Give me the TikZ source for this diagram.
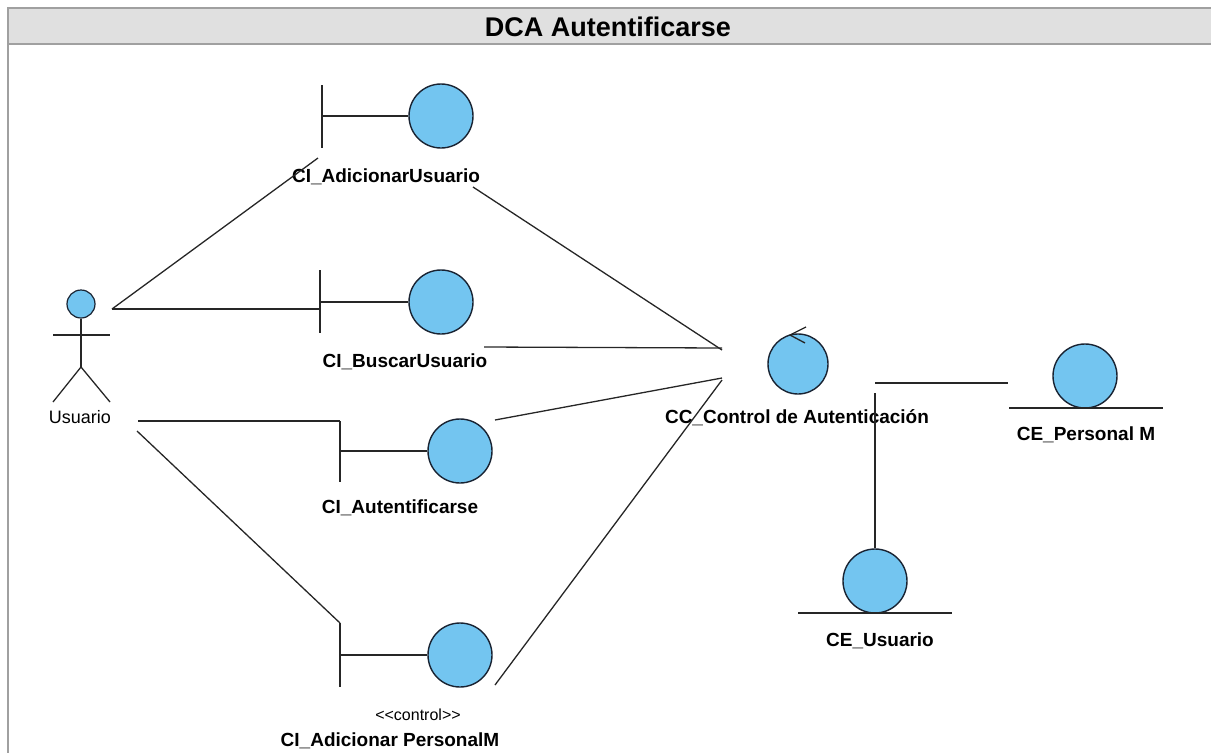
\documentclass[tikz,border=0pt]{standalone}
\usepackage{fontspec}
\setmainfont{Liberation Sans}
\definecolor{objblue}{RGB}{115,197,240}
\definecolor{objline}{RGB}{25,35,50}
\definecolor{titlegray}{RGB}{224,224,224}
\definecolor{framegray}{RGB}{160,160,160}
\begin{document}
\begin{tikzpicture}[x=1pt,y=-1pt,
  obj/.style={circle, draw=objline, line width=1.4pt, fill=objblue, minimum size=64pt, inner sep=0pt},
  lbl/.style={font=\bfseries\fontsize{19}{22}\selectfont, inner sep=0pt},
  plain/.style={font=\fontsize{18}{21}\selectfont, inner sep=0pt},
  ln/.style={line width=1.3pt, draw=black!85}]
\useasboundingbox (0,0) rectangle (1211,753);
% frame and title
\fill[titlegray] (8,8) rectangle (1211,44);
\draw[framegray, line width=2pt] (1211,8) -- (8,8) -- (8,753);
\draw[framegray, line width=2pt] (8,44) -- (1211,44);
\node[font=\bfseries\fontsize{27}{32}\selectfont, inner sep=0pt] (title) at (608,27) {DCA Autentificarse};

% actor
\node[obj, minimum size=28pt, line width=1.2pt] (head) at (81,304) {};
\coordinate (hip) at (81,367);
\draw[ln] (head.south) -- (hip);
\draw[ln] (53,335) -- (110,335);
\draw[ln] (53,402) -- (hip) -- (110,402);
\node[plain] (actorlbl) at (80,417) {Usuario};
\coordinate (a1) at (112,309);
\coordinate (a2) at (138,421);
\coordinate (a3) at (137,431);

% CI_AdicionarUsuario
\node[obj] (b1) at (441,116) {};
\draw[ln] (322,85) -- (322,148);
\coordinate (b1bar) at (322,116);
\draw[ln] (b1bar) -- (b1.west);
\node[lbl] (b1lbl) at (386,177) {CI\_AdicionarUsuario};
\coordinate (b1in) at (318,158);
\coordinate (b1out) at (473,187);

% CI_BuscarUsuario
\node[obj] (b2) at (441,302) {};
\draw[ln] (320,270) -- (320,333);
\coordinate (b2bar) at (320,302);
\draw[ln] (b2bar) -- (b2.west);
\node[lbl] (b2lbl) at (405,362) {CI\_BuscarUsuario};
\coordinate (b2in) at (320,309);
\coordinate (b2out) at (484,347);

% CI_Autentificarse
\node[obj] (b3) at (460,451) {};
\draw[ln] (340,421) -- (340,482);
\coordinate (b3bar) at (340,451);
\draw[ln] (b3bar) -- (b3.west);
\node[lbl] (b3lbl) at (400,508) {CI\_Autentificarse};
\coordinate (b3in) at (340,421);
\coordinate (b3out) at (495,420);

% CI_Adicionar PersonalM
\node[obj] (b4) at (460,655) {};
\draw[ln] (340,623) -- (340,687);
\coordinate (b4bar) at (340,655);
\draw[ln] (b4bar) -- (b4.west);
\node[plain, font=\fontsize{16}{19}\selectfont] (b4st) at (418,715) {<{}<control>{}>};
\node[lbl] (b4lbl) at (390,741) {CI\_Adicionar PersonalM};
\coordinate (b4in) at (340,623);
\coordinate (b4out) at (495,685);

% control
\node[obj, minimum size=60pt] (cc) at (798,364) {};
\draw[ln] (806,327) -- (790,335) -- (805,343);
\node[lbl] (cclbl) at (797,418) {CC\_Control de Autenticación};
\coordinate (c1) at (722,350);
\coordinate (c2) at (722,348);
\coordinate (c3) at (722,378);
\coordinate (c4) at (722,380);
\coordinate (ce1) at (875,383);
\coordinate (ce2) at (875,393);

% entities
\node[obj] (e1) at (1085,376) {};
\draw[ln] (1009,408) -- (1163,408);
\node[lbl] (e1lbl) at (1086,435) {CE\_Personal M};
\coordinate (e1in) at (1008,383);

\node[obj] (e2) at (875,581) {};
\draw[ln] (798,613) -- (952,613);
\node[lbl] (e2lbl) at (880,641) {CE\_Usuario};

% connectors
\draw[ln] (a1) -- (b1in);
\draw[ln] (a1) -- (b2in);
\draw[ln] (a2) -- (b3in);
\draw[ln] (a3) -- (b4in);
\draw[ln] (b1out) -- (c1);
\draw[ln] (b2out) -- (c2);
\draw[ln] (b3out) -- (c3);
\draw[ln] (b4out) -- (c4);
\draw[ln] (ce1) -- (e1in);
\draw[ln] (ce2) -- (e2.north);
\end{tikzpicture}
\end{document}
